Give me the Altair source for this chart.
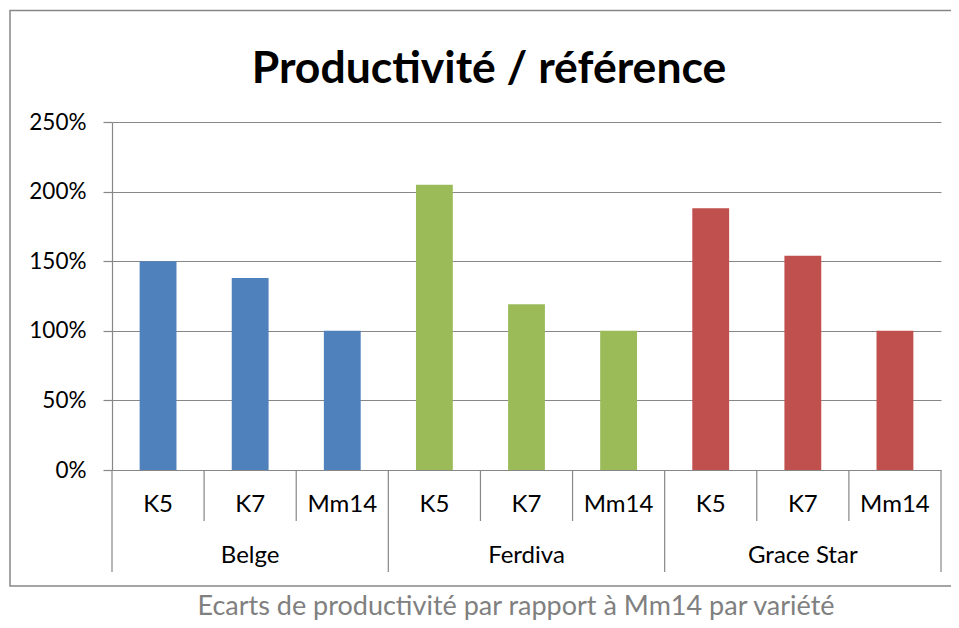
import altair as alt
import pandas as pd

varieties = ["Belge", "Ferdiva", "Grace Star"]
refs = ["K5", "K7", "Mm14"]
belge = [1.50, 1.38, 1.00]
ferdiva = [2.05, 1.19, 1.00]
grace_star = [1.88, 1.54, 1.00]
colors = ["#4F81BD", "#9BBB59", "#C0504D"]
title_text = "Productivité / référence"
caption_text = "Ecarts de productivité par rapport à Mm14 par variété"
y_ticks = [0, 0.5, 1.0, 1.5, 2.0, 2.5]

rows = []
for v, vals in zip(varieties, [belge, ferdiva, grace_star]):
    for r, val in zip(refs, vals):
        rows.append({"variety": v, "ref": r, "key": f"{v}|{r}", "value": val})
df = pd.DataFrame(rows)
keys = list(df["key"])

FONT = "Lato"
GRAY = "#878787"
W, H = 829, 348

xscale = alt.Scale(domain=keys, paddingInner=0, paddingOuter=0)

def xenc(**kw):
    return alt.X("key:N", scale=xscale, axis=None, sort=keys, **kw)

one = pd.DataFrame({"a": [0]})

border = alt.Chart(one).mark_rect(fill="transparent", stroke=GRAY, strokeWidth=1.5).encode(
    x=alt.value(-102), x2=alt.value(880), y=alt.value(-111.5), y2=alt.value(464)
)

bars = alt.Chart(df).mark_bar(width=alt.RelativeBandSize(0.4)).encode(
    x=xenc(),
    y=alt.Y("value:Q", scale=alt.Scale(domain=[0, 2.5]),
            axis=alt.Axis(format="%", values=y_ticks, title=None, grid=True,
                          gridColor=GRAY, gridWidth=1.2, domainColor=GRAY, domainWidth=1.2,
                          tickColor=GRAY, tickWidth=1.2, tickSize=9, labelFont=FONT,
                          labelFontSize=22.5, labelColor="black", labelPadding=17)),
    color=alt.Color("variety:N", scale=alt.Scale(domain=varieties, range=colors), legend=None),
)

short_rules = alt.Chart(df[df["ref"] != "K5"]).mark_rule(color=GRAY, strokeWidth=1.2).encode(
    x=xenc(bandPosition=0), y=alt.value(H), y2=alt.value(399)
)
long_rules = alt.Chart(df[df["ref"] == "K5"]).mark_rule(color=GRAY, strokeWidth=1.2).encode(
    x=xenc(bandPosition=0), y=alt.value(H), y2=alt.value(450)
)
end_rule = alt.Chart(df[df["key"] == keys[-1]]).mark_rule(color=GRAY, strokeWidth=1.2).encode(
    x=xenc(bandPosition=1), y=alt.value(H), y2=alt.value(450)
)

sub_labels = alt.Chart(df).mark_text(font=FONT, fontSize=24, color="black", baseline="alphabetic").encode(
    x=xenc(), y=alt.value(389.5), text="ref:N"
)
group_labels = alt.Chart(df[df["ref"] == "K7"]).mark_text(font=FONT, fontSize=24, color="black", baseline="alphabetic").encode(
    x=xenc(), y=alt.value(441), text="variety:N"
)

title = alt.Chart(pd.DataFrame({"t": [title_text]})).mark_text(
    font=FONT, fontSize=44.5, fontWeight="bold", color="black", baseline="alphabetic", align="center"
).encode(x=alt.value(377), y=alt.value(-39.5), text="t:N")

caption = alt.Chart(pd.DataFrame({"t": [caption_text]})).mark_text(
    font=FONT, fontSize=27, color="#808080", baseline="alphabetic", align="center"
).encode(x=alt.value(404), y=alt.value(493), text="t:N")

chart = alt.layer(border, bars, short_rules, long_rules, end_rule, sub_labels, group_labels, title, caption).properties(
    width=W, height=H,
    autosize=alt.AutoSizeParams(type="none"),
    padding={"left": 104, "top": 114, "right": 10, "bottom": 150},
).configure_view(stroke=None)

chart.save("out.html", embed_options={"renderer": "svg", "actions": False})
